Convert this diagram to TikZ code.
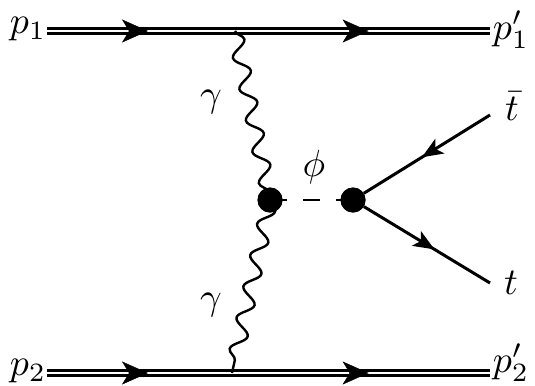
\documentclass[tikz,border=0pt]{standalone}
\usepackage{amsmath}
\usetikzlibrary{arrows.meta, decorations.pathmorphing, decorations.markings}

\begin{document}
\begin{tikzpicture}[
      x=1bp, y=-1bp,
      dbl/.style={double, double distance=2.6bp, line width=2.3bp},
      photon/.style={decorate, decoration={snake, amplitude=7.5bp, segment length=32bp}, line width=2.4bp},
      scalar/.style={line width=2.2bp, dash pattern=on 17bp off 16bp},
      fermion/.style={line width=3bp},
      blob/.style={circle, fill=black, minimum size=25bp, inner sep=0pt},
      lbl/.style={scale=3.8, inner sep=0pt}
    ]
    \useasboundingbox (0,0) rectangle (535,385);

    % external lines
    \coordinate (in1) at (47,31);
    \coordinate (out1) at (490,31);
    \coordinate (in2) at (47,373);
    \coordinate (out2) at (490,373);
    \coordinate (x1) at (235,31);
    \coordinate (x2) at (232,373);
    \node[lbl] (p1) at (28,29) {$p_1$};
    \node[lbl] (p1p) at (511,30) {$p_1'$};
    \node[lbl] (p2) at (28,371) {$p_2$};
    \node[lbl] (p2p) at (511,363) {$p_2'$};

    \draw[dbl] (in1) -- (out1);
    \draw[dbl] (in2) -- (out2);
    \path[decoration={markings,
        mark=at position 0.228 with {\arrow{Stealth[length=26bp,width=23bp,inset=7bp]}},
        mark=at position 0.726 with {\arrow{Stealth[length=26bp,width=23bp,inset=7bp]}}},
        decorate] (in1) -- (out1);
    \path[decoration={markings,
        mark=at position 0.228 with {\arrow{Stealth[length=26bp,width=23bp,inset=7bp]}},
        mark=at position 0.726 with {\arrow{Stealth[length=26bp,width=23bp,inset=7bp]}}},
        decorate] (in2) -- (out2);

    % vertices
    \node[blob] (v1) at (270,200) {};
    \node[blob] (v2) at (353,200) {};
    \coordinate (tb) at (490,115);
    \coordinate (tt) at (490,283);

    \draw[photon] (x1) -- (v1.center);
    \draw[photon] (v1.center) -- (x2);
    \draw[scalar] (v1.center) -- (v2.center);
    \node[blob] at (v1) {};
    \node[blob] at (v2) {};

    \draw[fermion, decoration={markings,
        mark=at position 0.54 with {\arrow{Stealth[length=21bp,width=17bp,inset=5bp]}}},
        postaction={decorate}] (tb) -- (v2);
    \draw[fermion, decoration={markings,
        mark=at position 0.56 with {\arrow{Stealth[length=21bp,width=17bp,inset=5bp]}}},
        postaction={decorate}] (v2) -- (tt);

    \node[lbl] (g1) at (211,102) {$\gamma$};
    \node[lbl] (g2) at (211,305) {$\gamma$};
    \node[lbl] (phi) at (314,167) {$\phi$};
    \node[lbl] (tbar) at (512,106) {$\bar{t}$};
    \node[lbl] (t) at (511,283) {$t$};
  \end{tikzpicture}
\end{document}
